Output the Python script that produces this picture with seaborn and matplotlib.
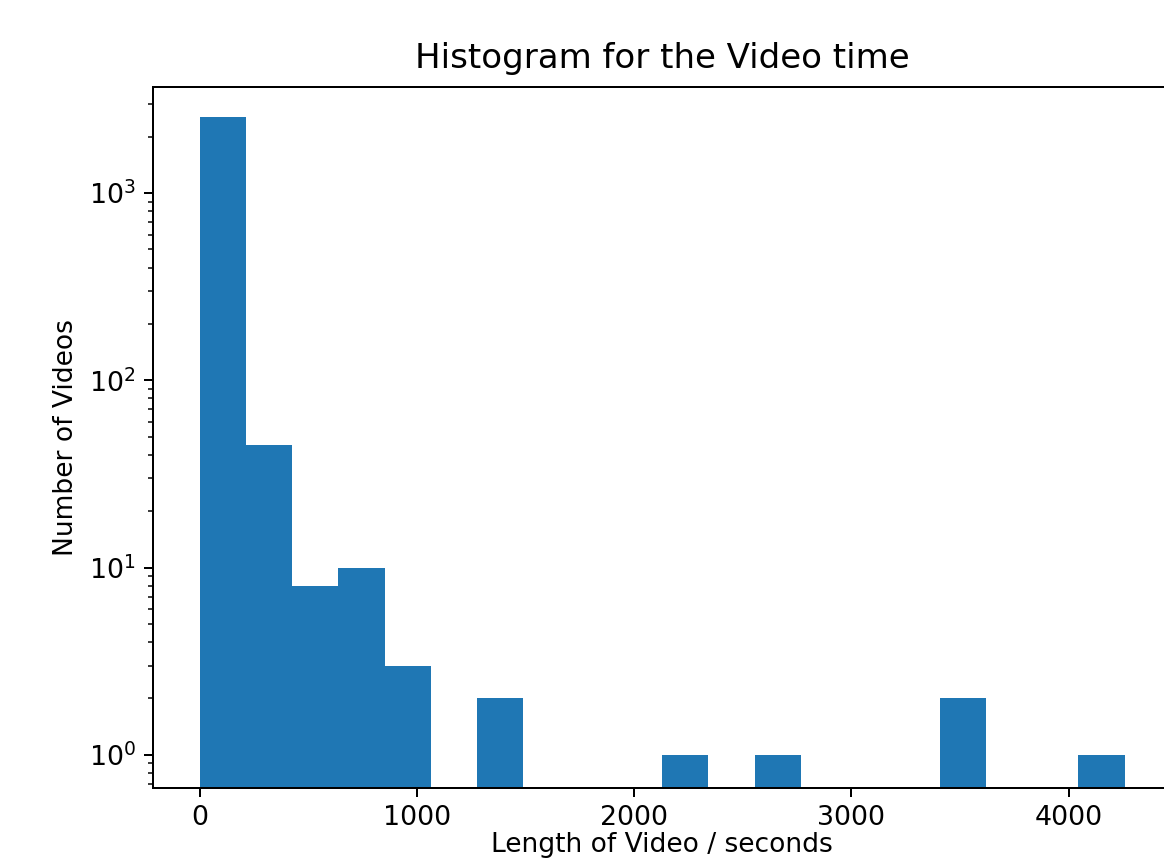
import matplotlib
matplotlib.use("Agg")
import matplotlib.pyplot as plt
import seaborn as sns
import pandas as pd

# Data (representative video length per bin, and count)
video_length = [106, 319, 532, 745, 958, 1383, 2234, 2660, 3511, 4150]
video_count = [2550, 45, 8, 10, 3, 2, 1, 1, 2, 1]
min_length = 0
max_length = 4257
n_bins = 20

df = pd.DataFrame({"length": video_length, "count": video_count})

fig = plt.figure(figsize=(1164 / 180, 863 / 180), dpi=180)
ax = fig.add_axes([0.1317, 0.0873, 0.8742, 0.8116])

sns.histplot(data=df, x="length", weights="count", bins=n_bins,
             binrange=(min_length, max_length), color="#1f77b4",
             alpha=1.0, linewidth=0, ax=ax)
ax.set_yscale("log")
ax.set_ylim(0.668, 3675)
ax.set_xlim(-213, 4470)

ax.set_title("Histogram for the Video time", fontsize=13.6, pad=7.5)
ax.set_xlabel("Length of Video / seconds", fontsize=10.6, labelpad=0.3)
ax.set_ylabel("Number of Videos", fontsize=10.6)
ax.tick_params(axis="both", which="major", labelsize=10.7)

fig.savefig("out.png", dpi=180)
